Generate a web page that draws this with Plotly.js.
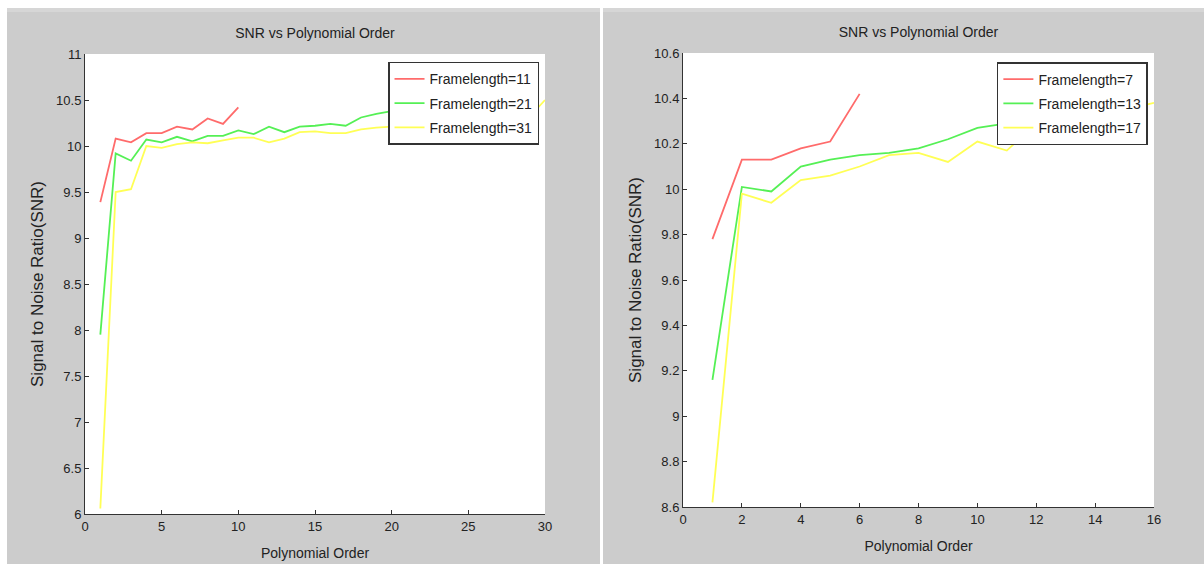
<!DOCTYPE html>
<html>
<head>
<meta charset="utf-8">
<script src="https://cdn.plot.ly/plotly-3.0.1.min.js"></script>
<style>
  html, body { margin: 0; padding: 0; background: #ffffff; width: 1204px; height: 564px; overflow: hidden; }
  .panel { position: absolute; background: #cccccc; }
  .band { position: absolute; height: 4px; background: #d6d6d6; }
  #left { left: 7px; top: 8px; width: 593px; height: 556px; }
  #right { left: 603px; top: 8px; width: 601px; height: 556px; }
</style>
</head>
<body>
<div id="left" class="panel"></div>
<div id="right" class="panel"></div>
<div class="band" style="left:7px;top:8px;width:593px;"></div>
<div class="band" style="left:603px;top:8px;width:601px;"></div>
<script>
// ---------- Left chart data ----------
const leftOrder11 = [1,2,3,4,5,6,7,8,9,10];
const leftSNR11 = [9.39,10.08,10.04,10.14,10.14,10.21,10.18,10.30,10.24,10.42];
const leftOrder21 = [1,2,3,4,5,6,7,8,9,10,11,12,13,14,15,16,17,18,19,20];
const leftSNR21 = [7.95,9.92,9.84,10.07,10.04,10.10,10.05,10.11,10.11,10.17,10.13,10.21,10.15,10.21,10.22,10.24,10.22,10.31,10.35,10.38];
const leftOrder31 = [1,2,3,4,5,6,7,8,9,10,11,12,13,14,15,16,17,18,19,20,21,22,23,24,25,26,27,28,29,30];
const leftSNR31 = [6.06,9.50,9.53,10.00,9.98,10.02,10.04,10.03,10.06,10.09,10.09,10.04,10.08,10.15,10.16,10.14,10.14,10.18,10.20,10.21,10.23,10.22,10.25,10.24,10.27,10.26,10.29,10.30,10.32,10.50];
const leftNames = ['Framelength=11','Framelength=21','Framelength=31'];

// ---------- Right chart data ----------
const rightOrder7 = [1,2,3,4,5,6];
const rightSNR7 = [9.78,10.13,10.13,10.18,10.21,10.42];
const rightOrder13 = [1,2,3,4,5,6,7,8,9,10,11,12];
const rightSNR13 = [9.16,10.01,9.99,10.10,10.13,10.15,10.16,10.18,10.22,10.27,10.29,10.31];
const rightOrder17 = [1,2,3,4,5,6,7,8,9,10,11,12,13,14,15,16];
const rightSNR17 = [8.62,9.98,9.94,10.04,10.06,10.10,10.15,10.16,10.12,10.21,10.17,10.29,10.31,10.33,10.35,10.38];
const rightNames = ['Framelength=7','Framelength=13','Framelength=17'];

const chartTitle = 'SNR vs Polynomial Order';
const xTitle = 'Polynomial Order';
const yTitle = 'Signal to Noise Ratio(SNR)';

const colors = ['#ff6b6b', '#55f055', '#ffff55'];
const FONT = 'Liberation Sans, Arial, sans-serif';

function mkTraces(xs, ys, names) {
  return xs.map((x, i) => ({
    x: x, y: ys[i], name: names[i], type: 'scatter', mode: 'lines',
    legendgroup: 'g' + i,
    line: {color: colors[i], width: 1.8}
  }));
}

function axis(range, dtick, title, tsize, standoff) {
  return {
    range: range, dtick: dtick, tick0: 0, autorange: false,
    showgrid: false, zeroline: false,
    showline: true, linecolor: '#333333', linewidth: 1,
    ticks: 'inside', ticklen: 4, tickcolor: '#333333', tickwidth: 1,
    tickfont: {family: FONT, size: 13, color: '#222222'},
    title: {text: title, font: {family: FONT, size: tsize, color: '#222222'}, standoff: standoff},
    fixedrange: true
  };
}

function mkLayout(xr, xd, yr, yd, margin, legx, legy) {
  return {
    width: margin.w, height: 556,
    paper_bgcolor: '#cccccc', plot_bgcolor: '#ffffff',
    margin: {l: margin.l, r: margin.r, t: margin.t, b: margin.b, pad: 0},
    title: {text: chartTitle, font: {family: FONT, size: 14, color: '#222222'},
            x: 0.5, xref: 'paper', y: 1, yref: 'paper', yanchor: 'bottom', pad: {b: 16}},
    xaxis: axis(xr, xd, xTitle, 14, 15),
    yaxis: axis(yr, yd, yTitle, 17, 8),
    showlegend: true,
    legend: {
      x: legx, y: legy, xanchor: 'right', yanchor: 'top',
      bgcolor: '#ffffff', bordercolor: '#333333', borderwidth: 1.5,
      font: {family: FONT, size: 14, color: '#222222'},
      tracegroupgap: 3, itemclick: false, itemdoubleclick: false
    },
    font: {family: FONT, color: '#222222'}
  };
}

Plotly.newPlot('left',
  mkTraces([leftOrder11, leftOrder21, leftOrder31], [leftSNR11, leftSNR21, leftSNR31], leftNames),
  mkLayout([0, 30], 5, [6, 11], 0.5, {w: 593, l: 78, r: 55, t: 46, b: 50}, 0.987, 0.983),
  {displayModeBar: false, staticPlot: true});

Plotly.newPlot('right',
  mkTraces([rightOrder7, rightOrder13, rightOrder17], [rightSNR7, rightSNR13, rightSNR17], rightNames),
  mkLayout([0, 16], 2, [8.6, 10.6], 0.2, {w: 601, l: 80, r: 50, t: 45, b: 57}, 0.987, 0.98),
  {displayModeBar: false, staticPlot: true});
</script>
</body>
</html>
